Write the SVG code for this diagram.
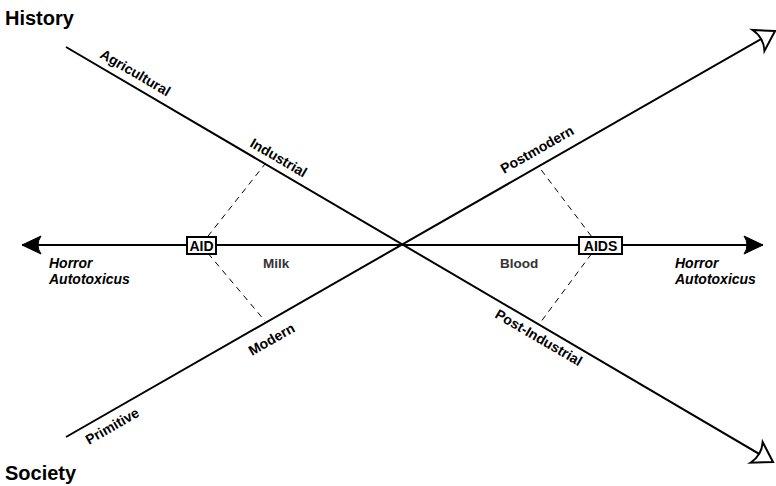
<svg xmlns="http://www.w3.org/2000/svg" width="776" height="486" viewBox="0 0 776 486">
<style>
.ln{stroke:#000;stroke-width:2;fill:none}
.dash{stroke:#000;stroke-width:1;stroke-dasharray:6 5;fill:none}
.lbl{font-family:"Liberation Sans",Arial,sans-serif;font-weight:bold;font-size:14px;fill:#000}
.it{font-family:"Liberation Sans",Arial,sans-serif;font-weight:bold;font-style:italic;font-size:14px;fill:#000}
.mid{font-family:"Liberation Sans",Arial,sans-serif;font-weight:bold;font-size:13.5px;fill:#333}
.title{font-family:"Liberation Sans",Arial,sans-serif;font-weight:bold;font-size:20px;fill:#000}
.box{fill:#fff;stroke:#000;stroke-width:2}
</style>
<defs>
<marker id="open" markerUnits="userSpaceOnUse" markerWidth="30" markerHeight="30" viewBox="-22 -15 26 30" refX="0" refY="0" orient="auto">
<path d="M0,0 L-19,-12 Q-13,0 -19,12 Z" fill="#fff" stroke="#000" stroke-width="2" stroke-linejoin="miter"/>
</marker>
<marker id="solid" markerUnits="userSpaceOnUse" markerWidth="30" markerHeight="30" viewBox="-22 -15 26 30" refX="0" refY="0" orient="auto">
<path d="M0,0 L-19,-9 Q-13,0 -19,9 Z" fill="#000" stroke="#000" stroke-width="1"/>
</marker>
</defs>
<g id="connectors">
<line class="dash" x1="201" y1="245" x2="265" y2="164"/>
<line class="dash" x1="201" y1="245" x2="265" y2="321"/>
<line class="dash" x1="598" y1="245" x2="539" y2="167"/>
<line class="dash" x1="598" y1="245" x2="540" y2="323"/>
<line id="history-axis" class="ln" x1="66" y1="47" x2="773" y2="462" marker-end="url(#open)"/>
<line id="society-axis" class="ln" x1="66" y1="437" x2="775" y2="31" marker-end="url(#open)"/>
<line id="horizontal-axis" class="ln" x1="404" y1="245" x2="763" y2="245" marker-end="url(#solid)"/>
<line class="ln" x1="404" y1="245" x2="22" y2="245" marker-end="url(#solid)"/>
</g>
<g id="title-history"><text class="title" x="5" y="25">History</text></g>
<g id="title-society"><text class="title" x="5" y="480">Society</text></g>
<g id="label-agricultural"><text class="lbl" transform="translate(99,57) rotate(30.3)">Agricultural</text></g>
<g id="label-industrial"><text class="lbl" transform="translate(249,146) rotate(30.3)">Industrial</text></g>
<g id="label-postindustrial"><text class="lbl" transform="translate(494,317) rotate(30.3)">Post-Industrial</text></g>
<g id="label-primitive"><text class="lbl" transform="translate(89,445) rotate(-29.8)">Primitive</text></g>
<g id="label-modern"><text class="lbl" transform="translate(252,356) rotate(-29.8)">Modern</text></g>
<g id="label-postmodern"><text class="lbl" transform="translate(504,174) rotate(-29.8)">Postmodern</text></g>
<g id="label-milk"><text class="mid" x="263" y="268">Milk</text></g>
<g id="label-blood"><text class="mid" x="500" y="268">Blood</text></g>
<g id="horror-left"><text class="it" x="49" y="268">Horror</text><text class="it" x="49" y="284">Autotoxicus</text></g>
<g id="horror-right"><text class="it" x="675" y="268">Horror</text><text class="it" x="675" y="284">Autotoxicus</text></g>
<g id="node-aid"><rect class="box" x="187" y="237" width="29" height="17"/><text class="lbl" x="201.5" y="250.5" text-anchor="middle">AID</text></g>
<g id="node-aids"><rect class="box" x="579" y="237" width="43" height="17"/><text class="lbl" x="600.5" y="250.5" text-anchor="middle">AIDS</text></g>
</svg>
